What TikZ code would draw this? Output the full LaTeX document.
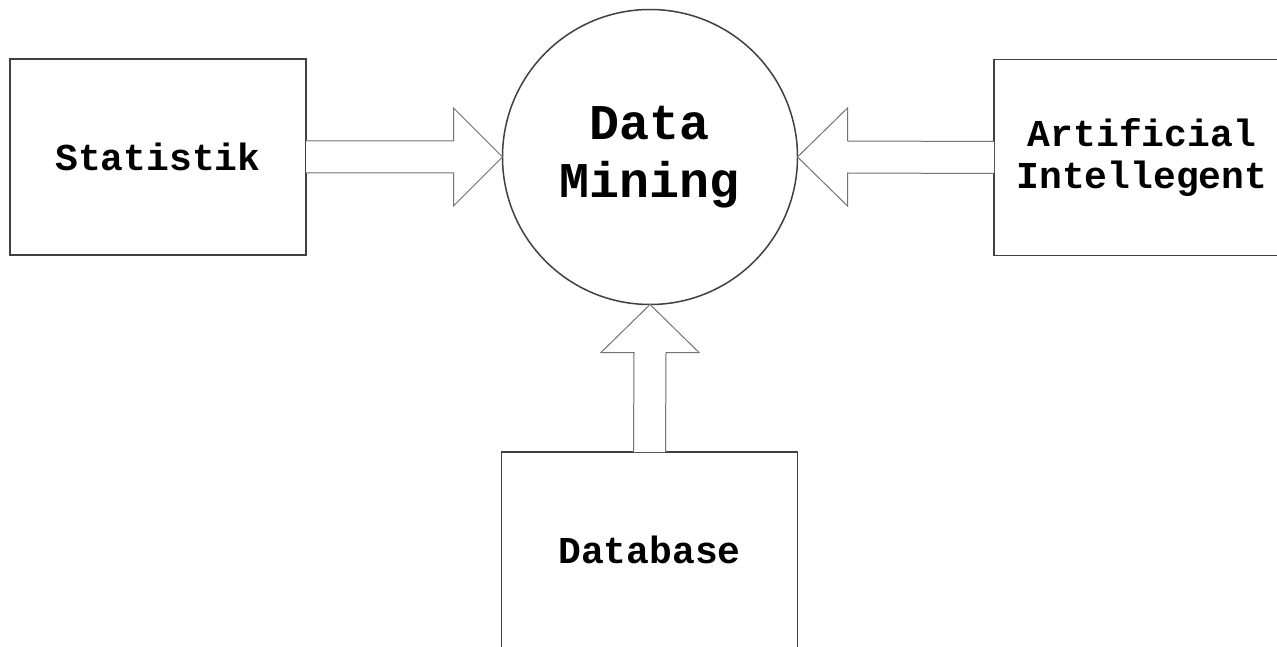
\documentclass[tikz,border=0pt]{standalone}
\usepackage{fontspec}
\setmainfont{Liberation Mono}
\setmonofont{Liberation Mono}
\usetikzlibrary{calc}
\tikzset{
  box/.style={draw=black!75, line width=1.5pt, rectangle, minimum width=296pt, minimum height=196pt, inner sep=0pt, outer sep=0pt, align=center, font=\fontsize{38}{42}\selectfont\ttfamily\bfseries},
  hub/.style={draw=black!75, line width=1.5pt, circle, minimum size=295pt, inner sep=0pt, outer sep=0pt, align=center, font=\fontsize{50}{58}\selectfont\ttfamily\bfseries},
  blockarrow/.style={draw=black!55, line width=1pt, fill=white, line join=miter}
}
\begin{document}
\begin{tikzpicture}[x=1pt,y=-1pt]
\useasboundingbox (0,0) rectangle (1277,647);
\clip (0,0) rectangle (1277,647);
\node[box] (stat) at (158,157) {Statistik};
\node[box] (ai) at (1142,157.5) {Artificial\\Intellegent};
\node[box] (db) at (649.5,550) {Database};
\node[hub] (dm) at (650,157) {Data\\Mining};
% left arrow
\draw[blockarrow] ($(stat.east)+(0,-16)$) -- ($(dm.west)+(-49,-16)$) -- ($(dm.west)+(-49,-49)$) -- (dm.west) -- ($(dm.west)+(-49,49)$) -- ($(dm.west)+(-49,16)$) -- ($(stat.east)+(0,16)$);
% right arrow
\draw[blockarrow] ($(ai.west)+(0,-16)$) -- ($(dm.east)+(50,-16)$) -- ($(dm.east)+(50,-49)$) -- (dm.east) -- ($(dm.east)+(50,49)$) -- ($(dm.east)+(50,16)$) -- ($(ai.west)+(0,16)$);
% bottom arrow
\draw[blockarrow] ($(db.north)+(-16,0)$) -- ($(dm.south)+(-16,48)$) -- ($(dm.south)+(-49,48)$) -- (dm.south) -- ($(dm.south)+(49,48)$) -- ($(dm.south)+(16,48)$) -- ($(db.north)+(16,0)$);
\end{tikzpicture}
\end{document}
